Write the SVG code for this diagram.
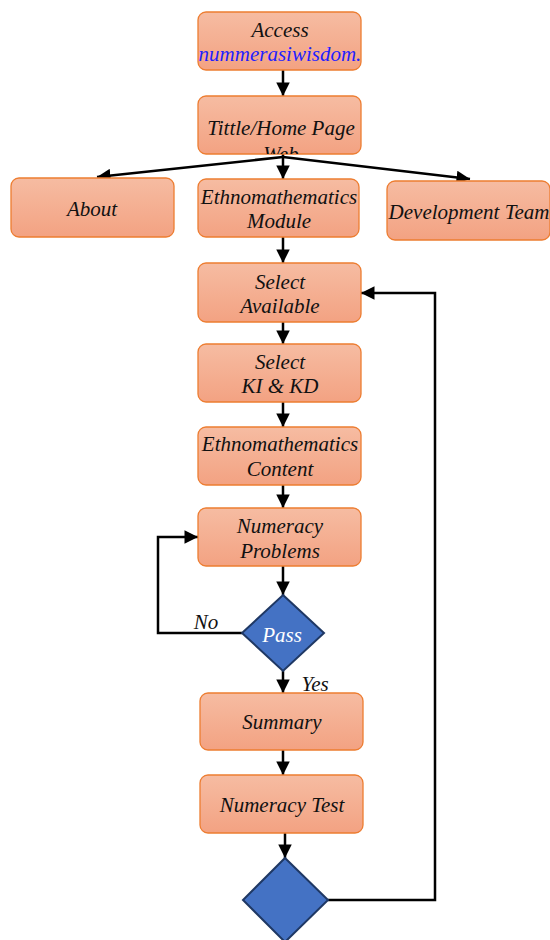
<svg xmlns="http://www.w3.org/2000/svg" width="550" height="940" viewBox="0 0 550 940">
<style>
.box{fill:url(#g);stroke:#ED7D31;stroke-width:1.3}
.t{font-family:"Liberation Serif",serif;font-style:italic;font-size:21px;fill:#111;text-anchor:middle}
.c{fill:none;stroke:#000;stroke-width:2.5}
.d{fill:#4472C4;stroke:#1F3864;stroke-width:2}
</style>
<defs>
<linearGradient id="g" x1="0" y1="0" x2="0" y2="1"><stop offset="0" stop-color="#F6BCA2"/><stop offset="1" stop-color="#F3A282"/></linearGradient>
<marker id="a" viewBox="0 0 10 10" refX="10" refY="5" markerWidth="5.5" markerHeight="5.4" orient="auto" markerUnits="strokeWidth"><path d="M0,0 L10,5 L0,10 z" fill="#000"/></marker>
<clipPath id="cp2"><rect x="198" y="96" width="163" height="58"/></clipPath>
</defs>
<g id="connectors">
<path class="c" d="M283,70 V96" marker-end="url(#a)"/>
<path class="c" d="M283,157 L97,177" marker-end="url(#a)"/>
<path class="c" d="M283,154 V179" marker-end="url(#a)"/>
<path class="c" d="M283,157 L470,179" marker-end="url(#a)"/>
<path class="c" d="M283,237 V263" marker-end="url(#a)"/>
<path class="c" d="M283,322 V344" marker-end="url(#a)"/>
<path class="c" d="M283,402 V427" marker-end="url(#a)"/>
<path class="c" d="M283,485 V508" marker-end="url(#a)"/>
<path class="c" d="M283,566 V595" marker-end="url(#a)"/>
<path class="c" d="M242,633 H158 V537 H198" marker-end="url(#a)"/>
<path class="c" d="M283,671 V693" marker-end="url(#a)"/>
<path class="c" d="M283,750 V775" marker-end="url(#a)"/>
<path class="c" d="M285,833 V858" marker-end="url(#a)"/>
<path class="c" d="M328,900 H435 V293 H361" marker-end="url(#a)"/>
<text class="t" x="206" y="629">No</text>
<text class="t" x="315" y="691">Yes</text>
</g>
<g id="n1"><rect class="box" x="198" y="12" width="163" height="58" rx="8"/>
<text class="t" x="280" y="37">Access</text>
<text class="t" x="280" y="61" style="fill:#1F1FFF">nummerasiwisdom.</text></g>
<g id="n2"><rect class="box" x="198" y="96" width="163" height="58" rx="8"/>
<text class="t" x="281" y="135">Tittle/Home Page</text>
<text class="t" x="281" y="161" clip-path="url(#cp2)">Web</text></g>
<g id="n3"><rect class="box" x="11" y="178" width="163" height="59" rx="8"/>
<text class="t" x="92" y="216">About</text></g>
<g id="n4"><rect class="box" x="198" y="179" width="161" height="58" rx="8"/>
<text class="t" x="279" y="204">Ethnomathematics</text>
<text class="t" x="279" y="228">Module</text></g>
<g id="n5"><rect class="box" x="387" y="181" width="163" height="59" rx="8"/>
<text class="t" x="469" y="219">Development Team</text></g>
<g id="n6"><rect class="box" x="198" y="263" width="163" height="59" rx="8"/>
<text class="t" x="280" y="289">Select</text>
<text class="t" x="280" y="313">Available</text></g>
<g id="n7"><rect class="box" x="198" y="344" width="163" height="58" rx="8"/>
<text class="t" x="280" y="369">Select</text>
<text class="t" x="280" y="393">KI &amp; KD</text></g>
<g id="n8"><rect class="box" x="198" y="427" width="163" height="58" rx="8"/>
<text class="t" x="280" y="451">Ethnomathematics</text>
<text class="t" x="280" y="476">Content</text></g>
<g id="n9"><rect class="box" x="198" y="508" width="163" height="58" rx="8"/>
<text class="t" x="280" y="533">Numeracy</text>
<text class="t" x="280" y="558">Problems</text></g>
<g id="n10"><path class="d" d="M283,595 L324,633 L283,671 L242,633 Z"/>
<text class="t" x="282" y="642" style="fill:#fff">Pass</text></g>
<g id="n11"><rect class="box" x="200" y="693" width="163" height="57" rx="8"/>
<text class="t" x="282" y="729">Summary</text></g>
<g id="n12"><rect class="box" x="200" y="775" width="163" height="58" rx="8"/>
<text class="t" x="282" y="812">Numeracy Test</text></g>
<g id="n13"><path class="d" d="M285,858 L328,900 L285,942 L243,900 Z"/></g>
</svg>
